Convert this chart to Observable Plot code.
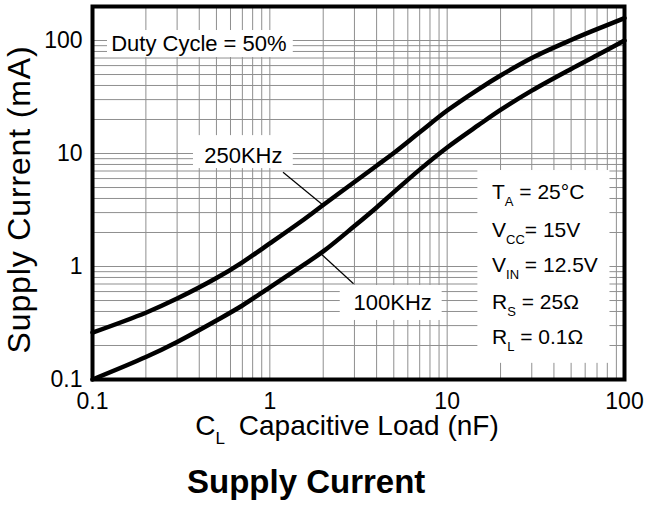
<!DOCTYPE html>
<html>
<head>
<meta charset="utf-8">
<script src="https://cdn.jsdelivr.net/npm/d3@7"></script>
<script src="https://cdn.jsdelivr.net/npm/@observablehq/plot@0.6"></script>
<style>
  body { margin: 0; background: #fff; }
  #chart svg { display: block; }
  #title {
    font-family: "Liberation Sans", Arial, sans-serif;
    font-weight: bold;
    font-size: 33px;
    height: 53px;
    line-height: 53px;
    padding-left: 187px;
    color: #000;
    white-space: nowrap;
  }
</style>
</head>
<body>
<div id="chart"></div>
<div id="title">Supply Current</div>
<script>
// ---- data ----
const capLoad     = [0.1, 0.2, 0.3, 0.5, 0.7, 1, 1.5, 2, 3, 4, 5, 7, 10, 15, 20, 30, 50, 70, 100];
const current250k = [0.26, 0.39, 0.52, 0.79, 1.09, 1.6, 2.5, 3.5, 5.6, 7.8, 10.1, 15.4, 24, 37, 49, 70, 101, 126, 158];
const current100k = [0.1, 0.158, 0.215, 0.333, 0.452, 0.655, 1.0, 1.36, 2.28, 3.33, 4.55, 7.2, 11.3, 17.8, 24.3, 36, 56, 74, 100];
const seriesNames = ["250KHz", "100KHz"];

const xTicks = [0.1, 1, 10, 100];
const xTickLabels = ["0.1", "1", "10", "100"];
const yTicks = [0.1, 1, 10, 100];
const yTickLabels = ["0.1", "1", "10", "100"];
const gridMultipliers = [1, 2, 3, 4, 5, 6, 7, 8, 9];
const gridDecades = [0.1, 1, 10, 100];

const xLabel = "C_{L} Capacitive Load (nF)";
const yLabel = "Supply Current (mA)";

// annotations (data coordinates)
const labelText = ["Duty Cycle = 50%", "250KHz", "100KHz"];
const labelX = [0.398, 0.709, 4.93];
const labelY = [94.1, 9.6, 0.471];
const boxX1 = [0.1215, 0.371, 2.495, 14.9];
const boxX2 = [1.356, 1.356, 9.37, 82.8];
const boxY1 = [122.6, 14.4, 0.679, 7.07];
const boxY2 = [70.7, 7.36, 0.333, 0.139];
const leaderX1 = [1.187, 1.968];
const leaderY1 = [6.83, 1.27];
const leaderX2 = [1.968, 2.965];
const leaderY2 = [3.55, 0.703];
const condText = ["T_{A} = 25°C", "V_{CC}= 15V", "V_{IN} = 12.5V", "R_{S} = 25Ω", "R_{L} = 0.1Ω"];
const condX = 17.9;
const condY = [4.55, 2.08, 1.02, 0.484, 0.237];

// ---- build tables ----
const rows = seriesNames.flatMap((s, k) =>
  capLoad.map((c, i) => ({x: c, y: (k === 0 ? current250k : current100k)[i], s})));
const gridX = gridDecades.slice(0, 3).flatMap(d => gridMultipliers.map(m => +(d * m).toPrecision(3))).filter(v => v > 0.1 && v < 100);
const gridY = gridDecades.flatMap(d => gridMultipliers.map(m => +(d * m).toPrecision(3))).filter(v => v > 0.1 && v <= 100);
const boxes = boxX1.map((v, i) => ({x1: v, x2: boxX2[i], y1: boxY1[i], y2: boxY2[i]}));
const leaders = leaderX1.map((v, i) => ({x1: v, y1: leaderY1[i], x2: leaderX2[i], y2: leaderY2[i]}));
const labels = labelText.map((t, i) => ({t, x: labelX[i], y: labelY[i]}));
const conds = condText.map((t, i) => ({t, x: condX, y: condY[i]}));
const xFmt = new Map(xTicks.map((v, i) => [v, xTickLabels[i]]));
const yFmt = new Map(yTicks.map((v, i) => [v, yTickLabels[i]]));

const FONT = "Liberation Sans, Arial, Helvetica, sans-serif";
const grid = "#8f8f8f";

const fig = Plot.plot({
  width: 653,
  height: 455,
  marginLeft: 92,
  marginRight: 29,
  marginTop: 6,
  marginBottom: 76,
  style: {fontFamily: FONT, fontSize: "23px", background: "white", color: "black"},
  x: {type: "log", domain: [0.1, 100]},
  y: {type: "log", domain: [0.1, 200]},
  marks: [
    Plot.ruleX(gridX, {stroke: grid, strokeWidth: 1}),
    Plot.ruleY(gridY, {stroke: grid, strokeWidth: 1}),
    Plot.rect(boxes, {x1: "x1", x2: "x2", y1: "y1", y2: "y2", fill: "white"}),
    Plot.line(rows, {x: "x", y: "y", z: "s", stroke: "black", strokeWidth: 4.5, curve: "catmull-rom"}),
    Plot.link(leaders, {x1: "x1", y1: "y1", x2: "x2", y2: "y2", stroke: "black", strokeWidth: 1.2}),
    Plot.text(labels, {x: "x", y: "y", text: "t", fontSize: 22, fill: "black"}),
    Plot.text(conds, {x: "x", y: "y", text: "t", fontSize: 21, textAnchor: "start", fill: "black"}),
    Plot.text([yLabel], {text: d => d, frameAnchor: "left", textAnchor: "middle", rotate: -90, dx: -73, dy: 6.5, fontSize: 32, fill: "black"}),
    Plot.text([xLabel], {text: d => d, x: () => 0.38, frameAnchor: "bottom", dy: 55, textAnchor: "start", fontSize: 28, fill: "black"}),
    Plot.axisX(xTicks, {tickSize: 0, tickPadding: 13, tickFormat: d => xFmt.get(d), label: null, fontSize: 23}),
    Plot.axisY(yTicks, {tickSize: 0, tickPadding: 10, tickFormat: d => yFmt.get(d), label: null, fontSize: 23}),
    Plot.frame({stroke: "black", strokeWidth: 4})
  ]
});

document.getElementById("chart").appendChild(fig);

// subscripts: convert "_{..}" to lowered small tspans
const NS = "http://www.w3.org/2000/svg";
d3.select(fig).selectAll("text").each(function () {
  const s = this.textContent;
  if (s === yLabel) {
    this.style.letterSpacing = "0.85px";
    return;
  }
  if (!s.includes("_{")) return;
  const big = s.startsWith("C_{");
  const subSize = big ? 17 : 13;
  const shift = big ? 9 : 7;
  const parts = s.split(/(_\{[^}]*\})/).filter(p => p);
  this.textContent = "";
  let lowered = false;
  for (const p of parts) {
    const t = document.createElementNS(NS, "tspan");
    if (p.startsWith("_{")) {
      t.textContent = p.slice(2, -1);
      t.setAttribute("font-size", subSize);
      t.setAttribute("dy", shift);
      lowered = true;
    } else {
      t.textContent = p;
      if (lowered) {
        t.setAttribute("dy", -shift);
        if (big) t.setAttribute("dx", 6);
        lowered = false;
      }
    }
    this.appendChild(t);
  }
});
</script>
</body>
</html>
